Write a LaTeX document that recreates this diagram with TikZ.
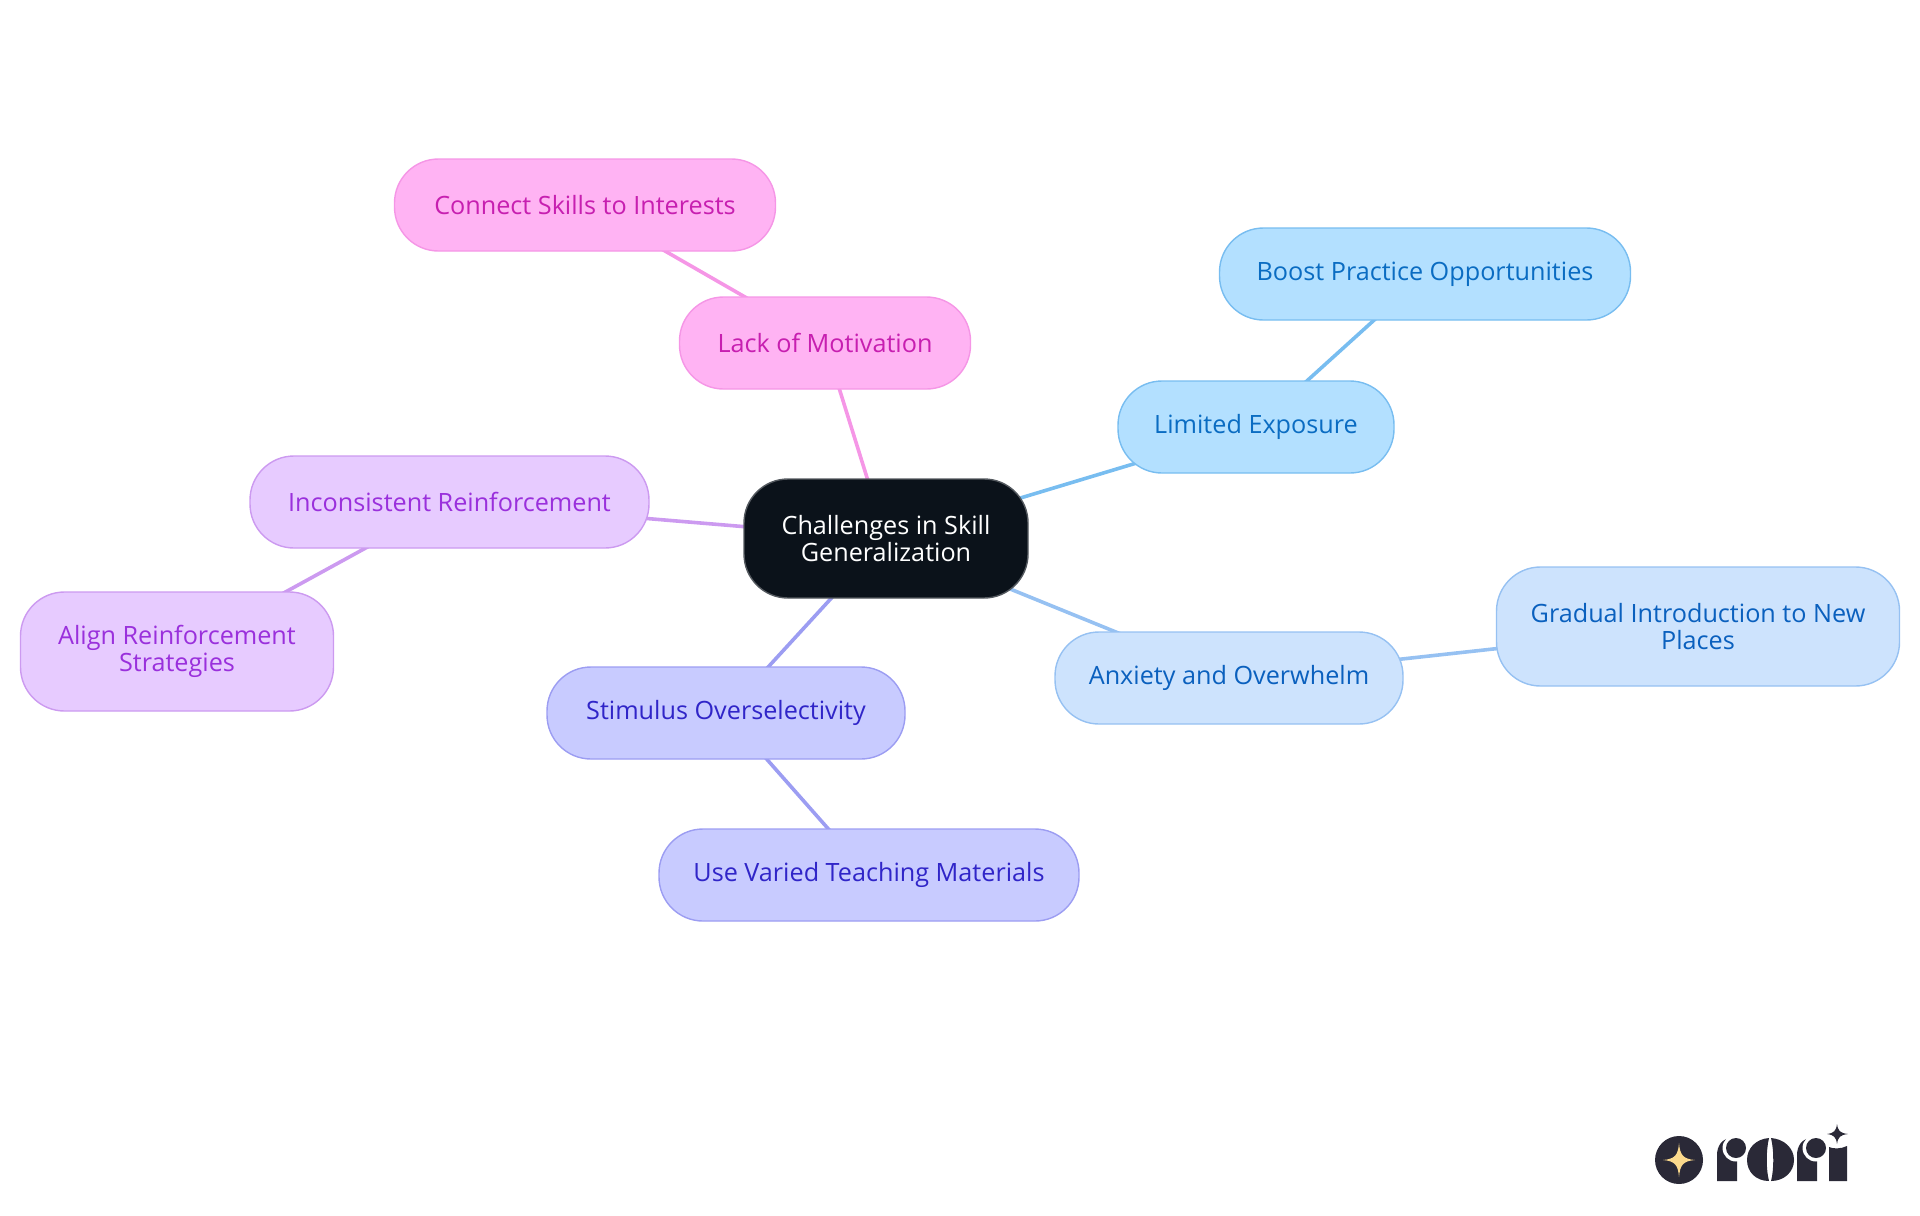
\documentclass[tikz,border=0pt]{standalone}
\usepackage{fontspec}
\setmainfont{Open Sans}
\usetikzlibrary{backgrounds}
\definecolor{rootfill}{HTML}{0B121A}
\definecolor{pinkfill}{HTML}{FFB3F3}
\definecolor{pinkline}{HTML}{F596E6}
\definecolor{pinktext}{HTML}{C71FB0}
\definecolor{skyfill}{HTML}{B3E0FF}
\definecolor{skyline}{HTML}{78BDF0}
\definecolor{skytext}{HTML}{0A6CC2}
\definecolor{bluefill}{HTML}{CDE3FD}
\definecolor{blueline}{HTML}{96C1F2}
\definecolor{bluetext}{HTML}{0A60BE}
\definecolor{lilacfill}{HTML}{E7CBFF}
\definecolor{lilacline}{HTML}{CC9AF0}
\definecolor{lilactext}{HTML}{9A30DC}
\definecolor{perifill}{HTML}{C8CBFF}
\definecolor{periline}{HTML}{9C9DF2}
\definecolor{peritext}{HTML}{3025C8}
\definecolor{logoink}{HTML}{2A2937}
\definecolor{logostar}{HTML}{FBD98C}
\tikzset{
	bubble/.style={rectangle, rounded corners=22pt, line width=0.7pt, align=center, inner sep=0pt,
		font=\fontsize{12.6pt}{13.5pt}\selectfont},
	rootnode/.style={bubble, fill=rootfill, draw=rootfill!70!white, text=white},
	pinknode/.style={bubble, fill=pinkfill, draw=pinkline, text=pinktext},
	skynode/.style={bubble, fill=skyfill, draw=skyline, text=skytext},
	bluenode/.style={bubble, fill=bluefill, draw=blueline, text=bluetext},
	lilacnode/.style={bubble, fill=lilacfill, draw=lilacline, text=lilactext},
	perinode/.style={bubble, fill=perifill, draw=periline, text=peritext},
	edgeline/.style={line width=1.8pt},
}
\begin{document}
\begin{tikzpicture}[x=0.5pt, y=-0.5pt]
	\useasboundingbox (0,0) rectangle (1920,1215);
	
	% Root
	\node[rootnode, minimum width=142pt, minimum height=59.5pt] (root) at (886,538.5) {Challenges in Skill\\Generalization};
	
	% Pink branch
	\node[pinknode, minimum width=145.5pt, minimum height=46pt] (motivation) at (825,343) {Lack of Motivation};
	\node[pinknode, minimum width=190.5pt, minimum height=46pt] (interests) at (585,205) {Connect Skills to Interests};
	
	% Sky blue branch
	\node[skynode, minimum width=138pt, minimum height=46pt] (exposure) at (1256,427) {Limited Exposure};
	\node[skynode, minimum width=205.5pt, minimum height=46pt] (practice) at (1425,274) {Boost Practice Opportunities};
	
	% Light blue branch
	\node[bluenode, minimum width=174pt, minimum height=46pt] (anxiety) at (1229,678) {Anxiety and Overwhelm};
	\node[bluenode, minimum width=201.5pt, minimum height=59.5pt] (places) at (1698,626.5) {Gradual Introduction to New\\Places};
	
	% Lilac branch
	\node[lilacnode, minimum width=199.5pt, minimum height=46pt] (reinforcement) at (449.5,502) {Inconsistent Reinforcement};
	\node[lilacnode, minimum width=156.5pt, minimum height=59.5pt] (strategies) at (177,651.5) {Align Reinforcement\\Strategies};
	
	% Periwinkle branch
	\node[perinode, minimum width=179pt, minimum height=46pt] (stimulus) at (726,713) {Stimulus Overselectivity};
	\node[perinode, minimum width=210pt, minimum height=46pt] (materials) at (869,875) {Use Varied Teaching Materials};
	
	% Connectors, behind the bubbles
	\begin{pgfonlayer}{background}
		\draw[edgeline, pinkline] (root.center) -- (motivation.center);
		\draw[edgeline, pinkline] (motivation.center) -- (interests.center);
		\draw[edgeline, skyline] (root.center) -- (exposure.center);
		\draw[edgeline, skyline] (exposure.center) -- (practice.center);
		\draw[edgeline, blueline] (root.center) -- (anxiety.center);
		\draw[edgeline, blueline] (anxiety.center) -- (places.center);
		\draw[edgeline, lilacline] (root.center) -- (reinforcement.center);
		\draw[edgeline, lilacline] (reinforcement.center) -- (strategies.center);
		\draw[edgeline, periline] (root.center) -- (stimulus.center);
		\draw[edgeline, periline] (stimulus.center) -- (materials.center);
	\end{pgfonlayer}
	
	% Logo
	\fill[logoink] (1679,1160) circle (24);
	\fill[logostar] (1679,1143) .. controls (1680,1155) and (1683,1159) .. (1695,1160) .. controls (1683,1161) and (1680,1165) .. (1679,1177) .. controls (1678,1165) and (1675,1161) .. (1663,1160) .. controls (1675,1159) and (1678,1155) .. (1679,1143) -- cycle;
	% first r
	\fill[logoink] (1717,1181) -- (1717,1155) .. controls (1717,1146) and (1722,1138) .. (1732,1138) -- (1737,1138) -- (1737,1181) -- cycle;
	\fill[white] (1736,1148) circle (13.5);
	\fill[logoink] (1736,1148) circle (10);
	% o, split by a slit
	\fill[logoink] (1769,1138) .. controls (1756,1139) and (1747,1148) .. (1747,1160) .. controls (1747,1172) and (1756,1181) .. (1769,1181) .. controls (1766,1170) and (1766,1150) .. (1769,1138) -- cycle;
	\fill[logoink] (1771,1138) .. controls (1784,1139) and (1794,1148) .. (1794,1160) .. controls (1794,1172) and (1784,1181) .. (1771,1181) .. controls (1774,1170) and (1774,1150) .. (1771,1138) -- cycle;
	% second r
	\fill[logoink] (1797,1181) -- (1797,1155) .. controls (1797,1146) and (1802,1138) .. (1812,1138) -- (1817,1138) -- (1817,1181) -- cycle;
	\fill[white] (1816,1148) circle (13.5);
	\fill[logoink] (1816,1148) circle (10);
	% i with its star
	\fill[logoink] (1829,1181) -- (1829,1147) .. controls (1833,1149) and (1841,1149) .. (1847,1146) -- (1847,1181) -- cycle;
	\fill[logoink] (1837,1124) .. controls (1838,1131) and (1840,1133) .. (1848,1134) .. controls (1840,1135) and (1838,1137) .. (1837,1144) .. controls (1836,1137) and (1834,1135) .. (1827,1134) .. controls (1834,1133) and (1836,1131) .. (1837,1124) -- cycle;
	
\end{tikzpicture}
\end{document}
